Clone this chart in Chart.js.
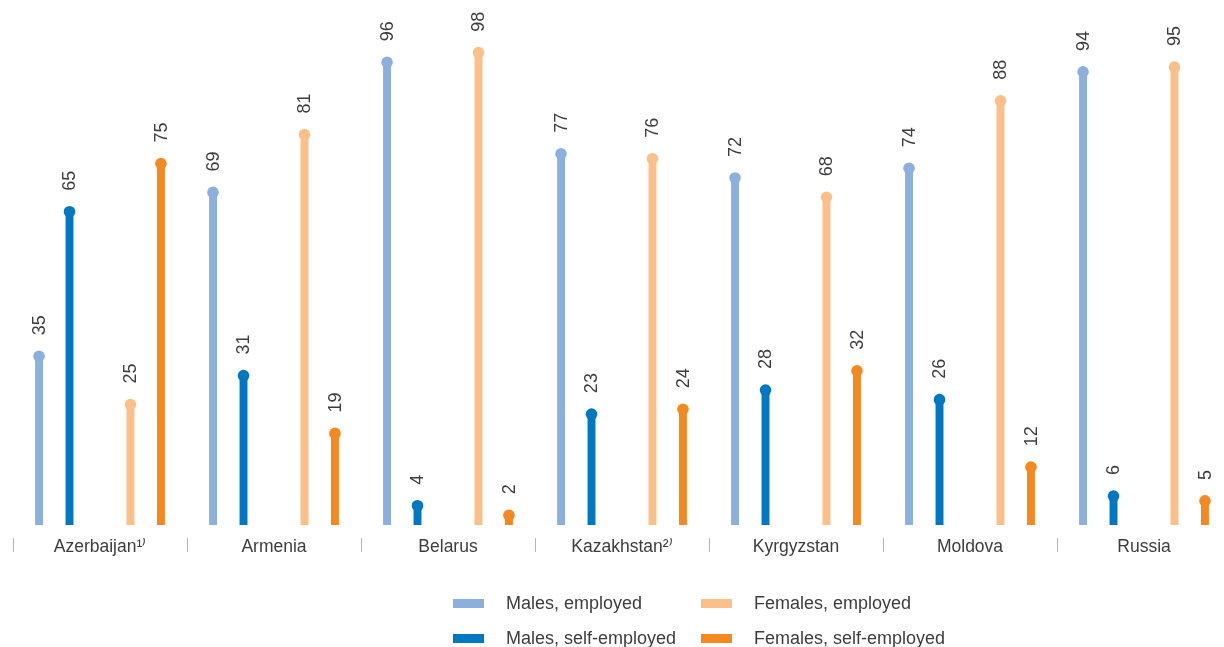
<!DOCTYPE html>
<html>
<head>
<meta charset="utf-8">
<script src="https://cdn.jsdelivr.net/npm/chart.js@4"></script>
<style>
  html, body { margin: 0; padding: 0; background: #fff; overflow: hidden; }
  #wrap { position: relative; width: 1240px; height: 647px; }
  #chart { display: block; }
  .legend { position: absolute; left: 0; top: 0; font: 18px "Liberation Sans", Arial, sans-serif; color: #3d3d3d; }
  .legend .item { position: absolute; white-space: nowrap; line-height: 20px; }
  .legend .sw { position: absolute; width: 31px; height: 9px; }
</style>
</head>
<body>
<div id="wrap">
  <canvas id="chart" width="1240" height="647"></canvas>
  <div id="legend" class="legend"></div>
</div>
<script>
// data
const countries = ['Azerbaijan¹⁾', 'Armenia', 'Belarus', 'Kazakhstan²⁾', 'Kyrgyzstan', 'Moldova', 'Russia'];
const malesEmployed = [35, 69, 96, 77, 72, 74, 94];
const malesSelf = [65, 31, 4, 23, 28, 26, 6];
const femalesEmployed = [25, 81, 98, 76, 68, 88, 95];
const femalesSelf = [75, 19, 2, 24, 32, 12, 5];

const colors = {
    malesEmployed: '#8cb0de',
    malesSelf: '#0078c1',
    femalesEmployed: '#fdbf88',
    femalesSelf: '#f5891f'
};

// circles on bar tops + rotated value labels
const lollipop = {
    id: 'lollipop',
    afterDatasetsDraw(chart) {
        const ctx = chart.ctx;
        chart.data.datasets.forEach((ds, i) => {
            if (!ds.data.length) return;
            const meta = chart.getDatasetMeta(i);
            meta.data.forEach((el, j) => {
                ctx.save();
                ctx.fillStyle = ds.backgroundColor;
                ctx.beginPath();
                ctx.arc(el.x, el.y, 5.8, 0, Math.PI * 2);
                ctx.fill();
                ctx.translate(el.x + 1, el.y - 21);
                ctx.rotate(-Math.PI / 2);
                ctx.fillStyle = '#3d3d3d';
                ctx.font = '18px "Liberation Sans", Arial, sans-serif';
                ctx.textAlign = 'left';
                ctx.textBaseline = 'middle';
                ctx.fillText(String(ds.data[j]), 0, 0);
                ctx.restore();
            });
        });
    }
};

const chart = new Chart(document.getElementById('chart'), {
    type: 'bar',
    data: {
        labels: countries,
        datasets: [
            { label: 'Males, employed', data: malesEmployed, backgroundColor: colors.malesEmployed },
            { label: 'Males, self-employed', data: malesSelf, backgroundColor: colors.malesSelf },
            { label: '', data: [], backgroundColor: 'transparent' },
            { label: 'Females, employed', data: femalesEmployed, backgroundColor: colors.femalesEmployed },
            { label: 'Females, self-employed', data: femalesSelf, backgroundColor: colors.femalesSelf }
        ]
    },
    options: {
        responsive: false,
        animation: false,
        datasets: {
            bar: {
                categoryPercentage: 0.876,
                barPercentage: 0.26,
                maxBarThickness: 8
            }
        },
        layout: { padding: { left: 13, right: 9, top: 43, bottom: 0 } },
        plugins: {
            legend: { display: false },
            tooltip: { enabled: false }
        },
        scales: {
            x: {
                grid: {
                    offset: true,
                    drawOnChartArea: false,
                    drawTicks: true,
                    tickLength: 14,
                    color: '#b5b5b5'
                },
                border: { display: false },
                ticks: {
                    color: '#3d3d3d',
                    padding: -15,
                    font: { family: '"Liberation Sans", Arial, sans-serif', size: 17.5 }
                },
                afterFit(scale) { scale.height = 109; }
            },
            y: {
                display: false,
                min: -2.7,
                max: 100
            }
        }
    },
    plugins: [lollipop]
});

// legend (2 x 2)
const legendItems = [
    { text: 'Males, employed', color: colors.malesEmployed, x: 453, y: 593 },
    { text: 'Females, employed', color: colors.femalesEmployed, x: 701, y: 593 },
    { text: 'Males, self-employed', color: colors.malesSelf, x: 453, y: 628 },
    { text: 'Females, self-employed', color: colors.femalesSelf, x: 701, y: 628 }
];
const legendEl = document.getElementById('legend');
legendItems.forEach(it => {
    const sw = document.createElement('div');
    sw.className = 'sw';
    sw.style.background = it.color;
    sw.style.left = it.x + 'px';
    sw.style.top = (it.y + 6) + 'px';
    legendEl.appendChild(sw);
    const t = document.createElement('div');
    t.className = 'item';
    t.textContent = it.text;
    t.style.left = (it.x + 53) + 'px';
    t.style.top = it.y + 'px';
    legendEl.appendChild(t);
});
</script>
</body>
</html>
